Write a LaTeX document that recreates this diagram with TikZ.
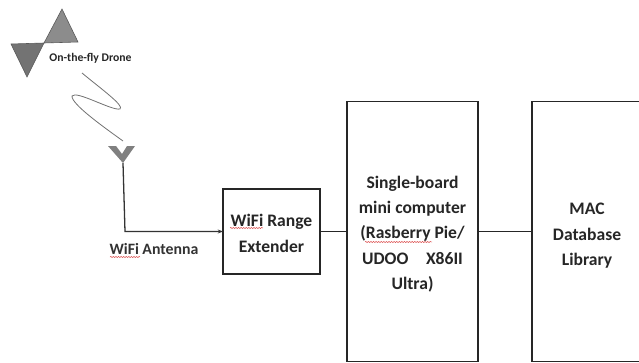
\documentclass[tikz,border=0pt]{standalone}
\usepackage{fontspec}
\setmainfont{Carlito}
\usetikzlibrary{arrows.meta, positioning, decorations.pathmorphing}
\newcommand{\topgap}[1]{\rule{0pt}{#1}}

\begin{document}
\begin{tikzpicture}[
    x=0.03cm, y=-0.03cm,
    node distance=0.81cm,
    block/.style={draw=black!85, line width=1.5pt, outer sep=0pt, align=center, inner sep=0pt, font=\fontsize{15}{21.7}\selectfont\bfseries, text=black!85},
    arrow/.style={-{Stealth[length=1.6mm]}, line width=1.1pt, draw=black!80},
    link/.style={line width=1.6pt, draw=black!85},
    wing/.style={draw=black!65, line width=0.5pt},
    spell/.style={red!80!black, line width=0.35pt, decorate, decoration={snake, amplitude=0.4pt, segment length=2.2pt}}
]
    \useasboundingbox (0,0) rectangle (639,363);

    \node[block, minimum width=2.91cm, minimum height=2.55cm] (extender) at (271.5,231.5) {\topgap{13.5pt}WiFi Range\\Extender};
    \node[block, minimum width=3.93cm, minimum height=7.8cm, right=of extender] (computer) {\topgap{15pt}Single-board\\mini computer\\(Rasberry Pie/\\UDOO\quad X86II\\Ultra)};
    \node[block, minimum width=3.3cm, minimum height=7.8cm, right=1.62cm of computer] (library) {\topgap{17pt}MAC\\Database\\Library};

    \node[font=\fontsize{10}{12}\selectfont\bfseries, text=black!85] (dronelabel) at (90.5,58.5) {On-the-fly Drone};
    \node[font=\fontsize{13.5}{16}\selectfont\bfseries, text=black!80] (antennalabel) at (154,249) {WiFi Antenna};

    % drone
    \fill[black!45, wing] (62,9) -- (78,42) -- (44,43) -- cycle;
    \fill[black!55, wing] (11,44) -- (44,43) -- (27,77) -- cycle;

    % radio link
    \draw[black!55, line width=0.7pt] (82,73) .. controls (100,88) and (125,106) .. (120,109)
        .. controls (112,111) and (76,90) .. (72,96)
        .. controls (71,104) and (105,128) .. (123,141);

    % antenna
    \fill[black!50] (108,146) -- (116,146) -- (122,154) -- (127,146) -- (135,146) -- (123,163) -- cycle;
    \coordinate (antenna) at (123,163);
    \coordinate (corner) at (125,231.5);

    \draw[arrow] (antenna) -- (corner) -- (extender);
    \draw[link] (extender) -- (computer);
    \draw[link] (computer) -- (library);

    % spell check marks
    \draw[spell] (110,257) -- (140,257);
    \draw[spell] (230,228) -- (263,228);
    \draw[spell] (365,242) -- (432,242);
\end{tikzpicture}
\end{document}
